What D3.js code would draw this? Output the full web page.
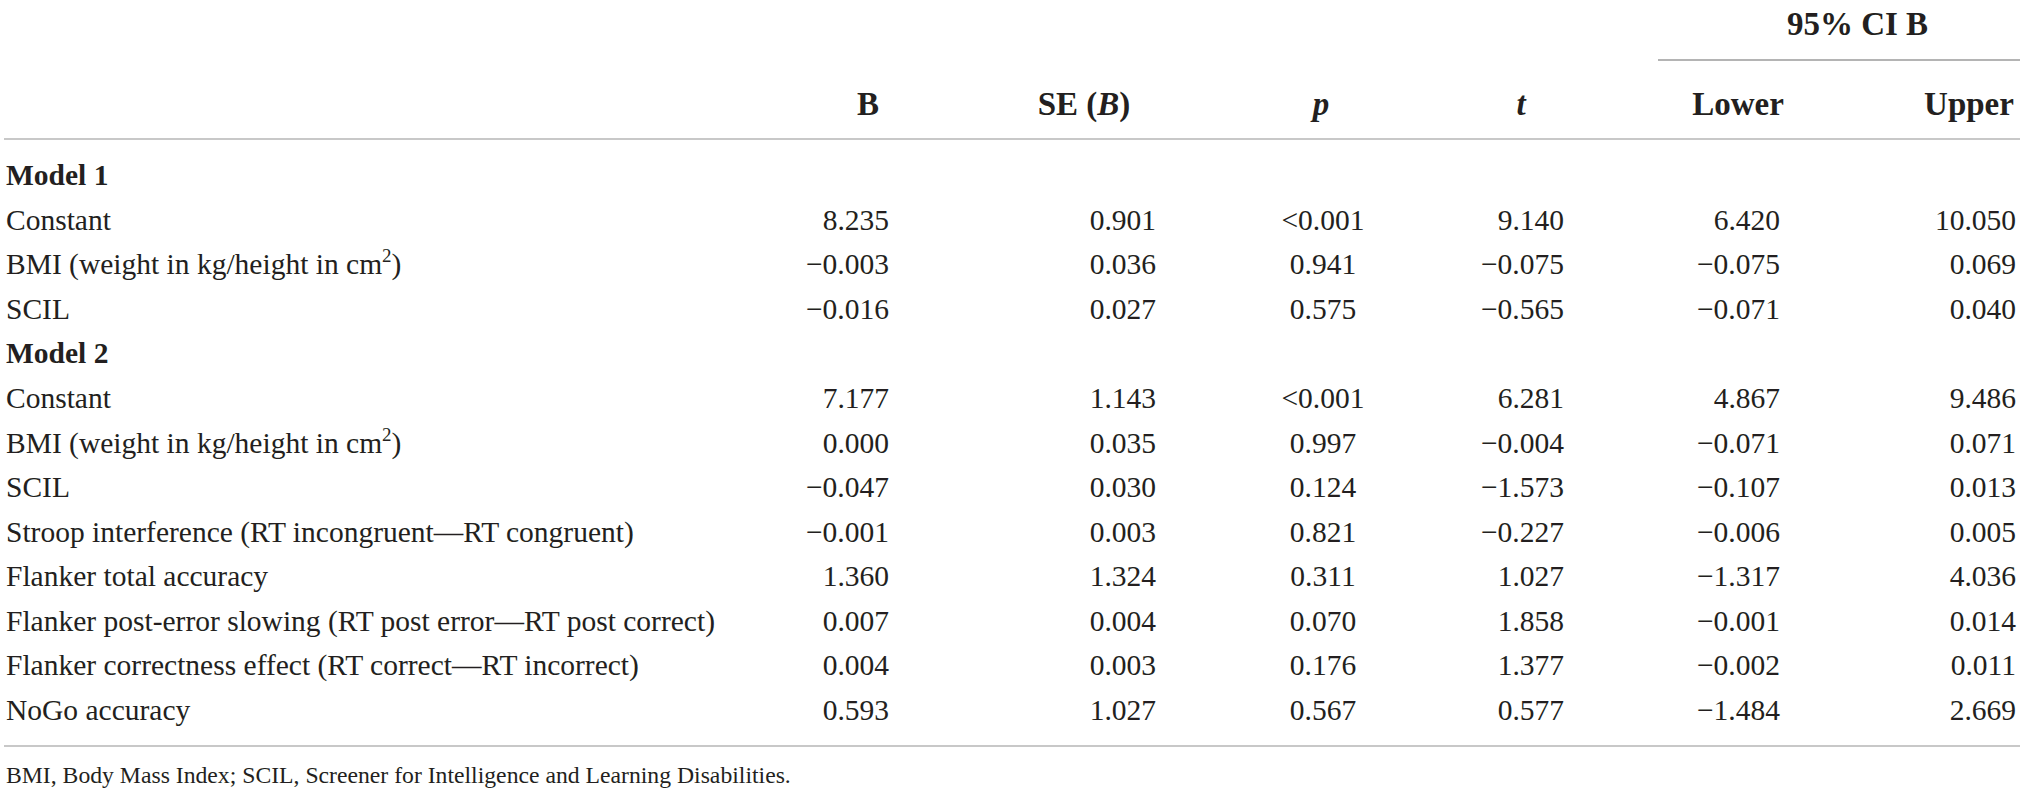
<!DOCTYPE html>
<html>
<head>
<meta charset="utf-8">
<script src="https://cdn.jsdelivr.net/npm/d3@7"></script>
<style>
  body { margin: 0; background: #fff; }
  text { font-family: "Liberation Serif", "Times New Roman", serif; fill: #231f20; }
  .head { font-weight: bold; font-size: 33px; }
  .cell { font-size: 29.5px; }
  .group { font-size: 29.5px; font-weight: bold; }
  .note { font-size: 23.7px; }
</style>
</head>
<body>
<svg id="table"></svg>
<script>
// Column headers
const columns = ["B", "SE (B)", "p", "t", "Lower", "Upper"];

// Row groups and labels
const groups = ["Model 1", "Model 2"];
const rowGroup = [0, 0, 0, 1, 1, 1, 1, 1, 1, 1, 1];
const rowLabels = [
    "Constant",
    "BMI (weight in kg/height in cm²)",
    "SCIL",
    "Constant",
    "BMI (weight in kg/height in cm²)",
    "SCIL",
    "Stroop interference (RT incongruent—RT congruent)",
    "Flanker total accuracy",
    "Flanker post-error slowing (RT post error—RT post correct)",
    "Flanker correctness effect (RT correct—RT incorrect)",
    "NoGo accuracy"
];

// Values per column
const estB    = [8.235, -0.003, -0.016, 7.177, 0.000, -0.047, -0.001, 1.360, 0.007, 0.004, 0.593];
const seB     = [0.901, 0.036, 0.027, 1.143, 0.035, 0.030, 0.003, 1.324, 0.004, 0.003, 1.027];
const pVal    = ["<0.001", 0.941, 0.575, "<0.001", 0.997, 0.124, 0.821, 0.311, 0.070, 0.176, 0.567];
const tVal    = [9.140, -0.075, -0.565, 6.281, -0.004, -1.573, -0.227, 1.027, 1.858, 1.377, 0.577];
const ciLower = [6.420, -0.075, -0.071, 4.867, -0.071, -0.107, -0.006, -1.317, -0.001, -0.002, -1.484];
const ciUpper = [10.050, 0.069, 0.040, 9.486, 0.071, 0.013, 0.005, 4.036, 0.014, 0.011, 2.669];

const spanLabel = "95% CI B";
const footnote = "BMI, Body Mass Index; SCIL, Screener for Intelligence and Learning Disabilities.";

const width = 2022, height = 793;
const svg = d3.select("#table").attr("width", width).attr("height", height);

const fmt = d3.format(".3f");  // d3 uses the true minus sign
const cell = v => typeof v === "number" ? fmt(v) : v;

// Build the row list: group heading followed by its rows
let rows = [];
groups.forEach(function(g, gi) {
    rows.push({ label: g, group: true });
    rowLabels.forEach(function(l, i) {
        if (rowGroup[i] !== gi) return;
        rows.push({ label: l, group: false,
            values: [estB[i], seB[i], pVal[i], tVal[i], ciLower[i], ciUpper[i]] });
    });
});

// Scales: header centres and value anchors per column
let y = d3.scalePoint().domain(d3.range(rows.length)).range([185, 720]);
let xHead = d3.scaleOrdinal().domain(columns).range([868, 1084, 1321, 1521, 1738, 1969]);
let xVal = d3.scaleOrdinal().domain(columns).range([889, 1156, 1323, 1564, 1780, 2016]);

// Rules
svg.append("line").attr("x1", 1658).attr("x2", 2020).attr("y1", 60).attr("y2", 60)
    .attr("stroke", "#9b9b9b").attr("stroke-width", 1.6);
svg.append("line").attr("x1", 4).attr("x2", 2020).attr("y1", 139).attr("y2", 139)
    .attr("stroke", "#c8c8c8").attr("stroke-width", 2);
svg.append("line").attr("x1", 4).attr("x2", 2020).attr("y1", 746).attr("y2", 746)
    .attr("stroke", "#c8c8c8").attr("stroke-width", 2);

// Spanning header
svg.append("text").attr("class", "head")
    .attr("x", (xHead("Lower") + xHead("Upper")) / 2 + 4).attr("y", 35)
    .attr("text-anchor", "middle").text(spanLabel);

// Column headers (B inside SE (B), p and t are italic)
let heads = svg.append("g").selectAll("text").data(columns).join("text")
    .attr("class", "head")
    .attr("x", d => xHead(d)).attr("y", 115)
    .attr("text-anchor", "middle");
heads.each(function(d) {
    let t = d3.select(this);
    if (d === "SE (B)") {
        t.append("tspan").text("SE (");
        t.append("tspan").attr("font-style", "italic").text("B");
        t.append("tspan").text(")");
    } else if (d === "p" || d === "t") {
        t.attr("font-style", "italic").text(d);
    } else {
        t.text(d);
    }
});

// Row labels
let labels = svg.append("g").selectAll("text").data(rows).join("text")
    .attr("class", d => d.group ? "group" : "cell")
    .attr("x", 6).attr("y", (d, i) => y(i));
labels.each(function(d) {
    let t = d3.select(this);
    if (d.label.indexOf("²") >= 0) {
        let parts = d.label.split("²");
        t.append("tspan").text(parts[0]);
        t.append("tspan").attr("font-size", "19px").attr("dy", -12).text("2");
        t.append("tspan").attr("dy", 12).text(parts[1]);
    } else {
        t.text(d.label);
    }
});

// Values
let body = svg.append("g");
rows.forEach(function(r, i) {
    if (r.group) return;
    body.selectAll(null).data(r.values).join("text")
        .attr("class", "cell")
        .attr("x", (v, j) => xVal(columns[j]))
        .attr("y", y(i))
        .attr("text-anchor", (v, j) => columns[j] === "p" ? "middle" : "end")
        .text(cell);
});

// Footnote
svg.append("text").attr("class", "note").attr("x", 6).attr("y", 783).text(footnote);
</script>
</body>
</html>
